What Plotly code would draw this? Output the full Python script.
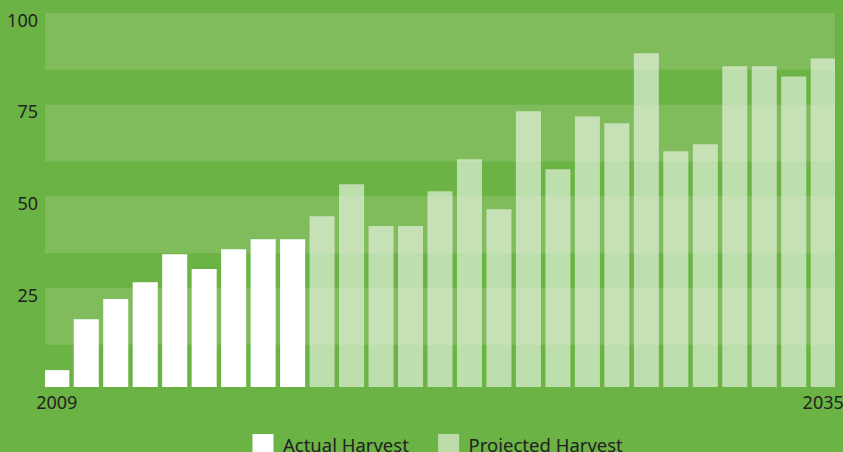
import plotly.graph_objects as go

years_actual = list(range(2009, 2018))
actual = [4.6, 18.5, 24.0, 28.6, 36.2, 32.2, 37.6, 40.3, 40.3]

years_projected = list(range(2018, 2036))
projected = [46.6, 55.3, 43.9, 43.9, 53.4, 62.1, 48.5, 75.2, 59.4,
             73.8, 71.9, 91.0, 64.3, 66.2, 87.5, 87.5, 84.7, 89.6]

y_ticks = [25, 50, 75, 100]
x_ticks = [2009, 2035]

bg = "#6ab344"
band = "#80bb5c"

fig = go.Figure()
fig.add_trace(go.Bar(x=years_actual, y=actual, name="Actual Harvest",
                     marker=dict(color="#ffffff", line=dict(width=0)),
                     showlegend=False))
fig.add_trace(go.Bar(x=years_projected, y=projected, name="Projected Harvest",
                     marker=dict(color="rgba(255,255,255,0.56)", line=dict(width=0)),
                     showlegend=False))

# legend entries with bigger squares than the bar legend gives,
# each in its own legend so the spacing can be set
for nm, col, lg in [("Actual Harvest", "#ffffff", "legend"),
                    ("Projected Harvest", "#bddcaa", "legend2")]:
    fig.add_trace(go.Scatter(x=[None], y=[None], mode="markers", name=nm,
                             legend=lg,
                             marker=dict(symbol="square", size=16, color=col,
                                         line=dict(color=col, width=5))))

# light horizontal bands behind each tick
for v in y_ticks:
    fig.add_shape(type="rect", xref="paper", yref="y", x0=0, x1=1,
                  y0=v - 13.5, y1=v + 2, fillcolor=band, line_width=0,
                  layer="below")

leg = dict(orientation="h", xanchor="left", y=-0.155, yanchor="middle",
           font=dict(size=18.5), bgcolor="rgba(0,0,0,0)", itemwidth=30,
           itemsizing="trace")

fig.update_layout(
    width=843, height=452,
    paper_bgcolor=bg, plot_bgcolor=bg,
    margin=dict(l=45, r=8, t=13, b=65, autoexpand=False),
    barmode="overlay", bargap=0.15,
    font=dict(family="Noto Sans", size=18, color="#222222"),
    showlegend=True,
    legend=dict(leg, x=0.2506),
    legend2=dict(leg, x=0.4856),
)
fig.update_xaxes(range=[2008.6, 2035.4], tickvals=x_ticks, showgrid=False,
                 zeroline=False, showline=False, ticks="",
                 ticklabeloverflow="allow", ticklabelstandoff=3)
fig.update_yaxes(range=[0, 102], tickvals=y_ticks, showgrid=False,
                 zeroline=False, showline=False, ticks="", ticklabelstandoff=6)

fig.write_html("out.html", config={"displayModeBar": False},
               post_script="document.body.style.margin='0';")
